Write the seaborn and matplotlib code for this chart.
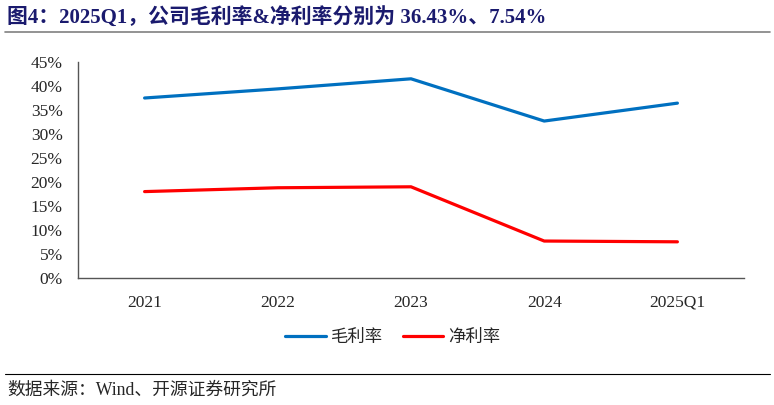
import matplotlib
matplotlib.use("Agg")
import matplotlib.pyplot as plt
import seaborn as sns
import pandas as pd
from matplotlib.ticker import FixedLocator, PercentFormatter

periods = ["2021", "2022", "2023", "2024", "2025Q1"]
gross_margin = [37.5, 39.4, 41.5, 32.7, 36.43]
net_margin = [18.0, 18.8, 19.0, 7.7, 7.54]
series_names = ["毛利率", "净利率"]

df = pd.DataFrame({
    "period": periods * 2,
    "value": gross_margin + net_margin,
    "series": [series_names[0]] * 5 + [series_names[1]] * 5,
})

sns.set_style("white")
plt.rcParams["font.family"] = ["Liberation Serif", "Noto Sans CJK SC", "DejaVu Sans"]

fig = plt.figure(figsize=(7.74, 4.05), dpi=100)
ax = fig.add_axes([78 / 774, 1 - 278 / 405, (744 - 78) / 774, (278 - 62) / 405])

sns.lineplot(data=df, x="period", y="value", hue="series", sort=False,
             palette=["#0070C0", "#FF0000"], linewidth=2.3, ax=ax, legend=True)

ax.set_xlim(-0.5, 4.5)
ax.set_ylim(0, 45)
ax.set_yticks(range(0, 46, 5))
ax.yaxis.set_major_formatter(PercentFormatter(decimals=0))
ax.set_xlabel("")
ax.set_ylabel("")
ax.xaxis.set_minor_locator(FixedLocator([0.5, 1.5, 2.5, 3.5, 4.5]))
ax.tick_params(axis="x", which="major", length=0, pad=12, labelsize=12.5)
ax.tick_params(axis="x", which="minor", direction="in", length=4, color="#555555")
ax.tick_params(axis="y", direction="in", length=4, color="#555555", pad=11, labelsize=12.5)
for side in ["top", "right"]:
    ax.spines[side].set_visible(False)
for side in ["left", "bottom"]:
    ax.spines[side].set_color("#555555")
    ax.spines[side].set_linewidth(1.0)

handles, labels = ax.get_legend_handles_labels()
leg = ax.legend(handles, labels, loc="center", bbox_to_anchor=(393 / 774, 1 - 337 / 405),
                bbox_transform=fig.transFigure, ncol=2, frameon=False,
                prop={"family": ["Noto Sans CJK SC"], "size": 12.5},
                handlelength=2.35, handletextpad=0.3, columnspacing=1.1)

fig.text(7 / 774, 1 - 17 / 405, "图4：2025Q1，公司毛利率&净利率分别为 36.43%、7.54%",
         fontsize=15, fontweight="bold", color="#1a1a6e", va="center", ha="left",
         family=["Liberation Serif", "Noto Sans CJK SC"])
fig.add_artist(plt.Line2D([5 / 774, 770 / 774], [1 - 31.5 / 405, 1 - 31.5 / 405],
                          transform=fig.transFigure, color="#808080", linewidth=1.2))
fig.add_artist(plt.Line2D([5 / 774, 770 / 774], [1 - 374 / 405, 1 - 374 / 405],
                          transform=fig.transFigure, color="#000000", linewidth=0.8))
fig.text(7 / 774, 1 - 390 / 405, "数据来源：Wind、开源证券研究所", fontsize=12.8,
         va="center", ha="left", family=["Liberation Serif", "Noto Sans CJK SC"])

fig.savefig("out.png", dpi=100)
